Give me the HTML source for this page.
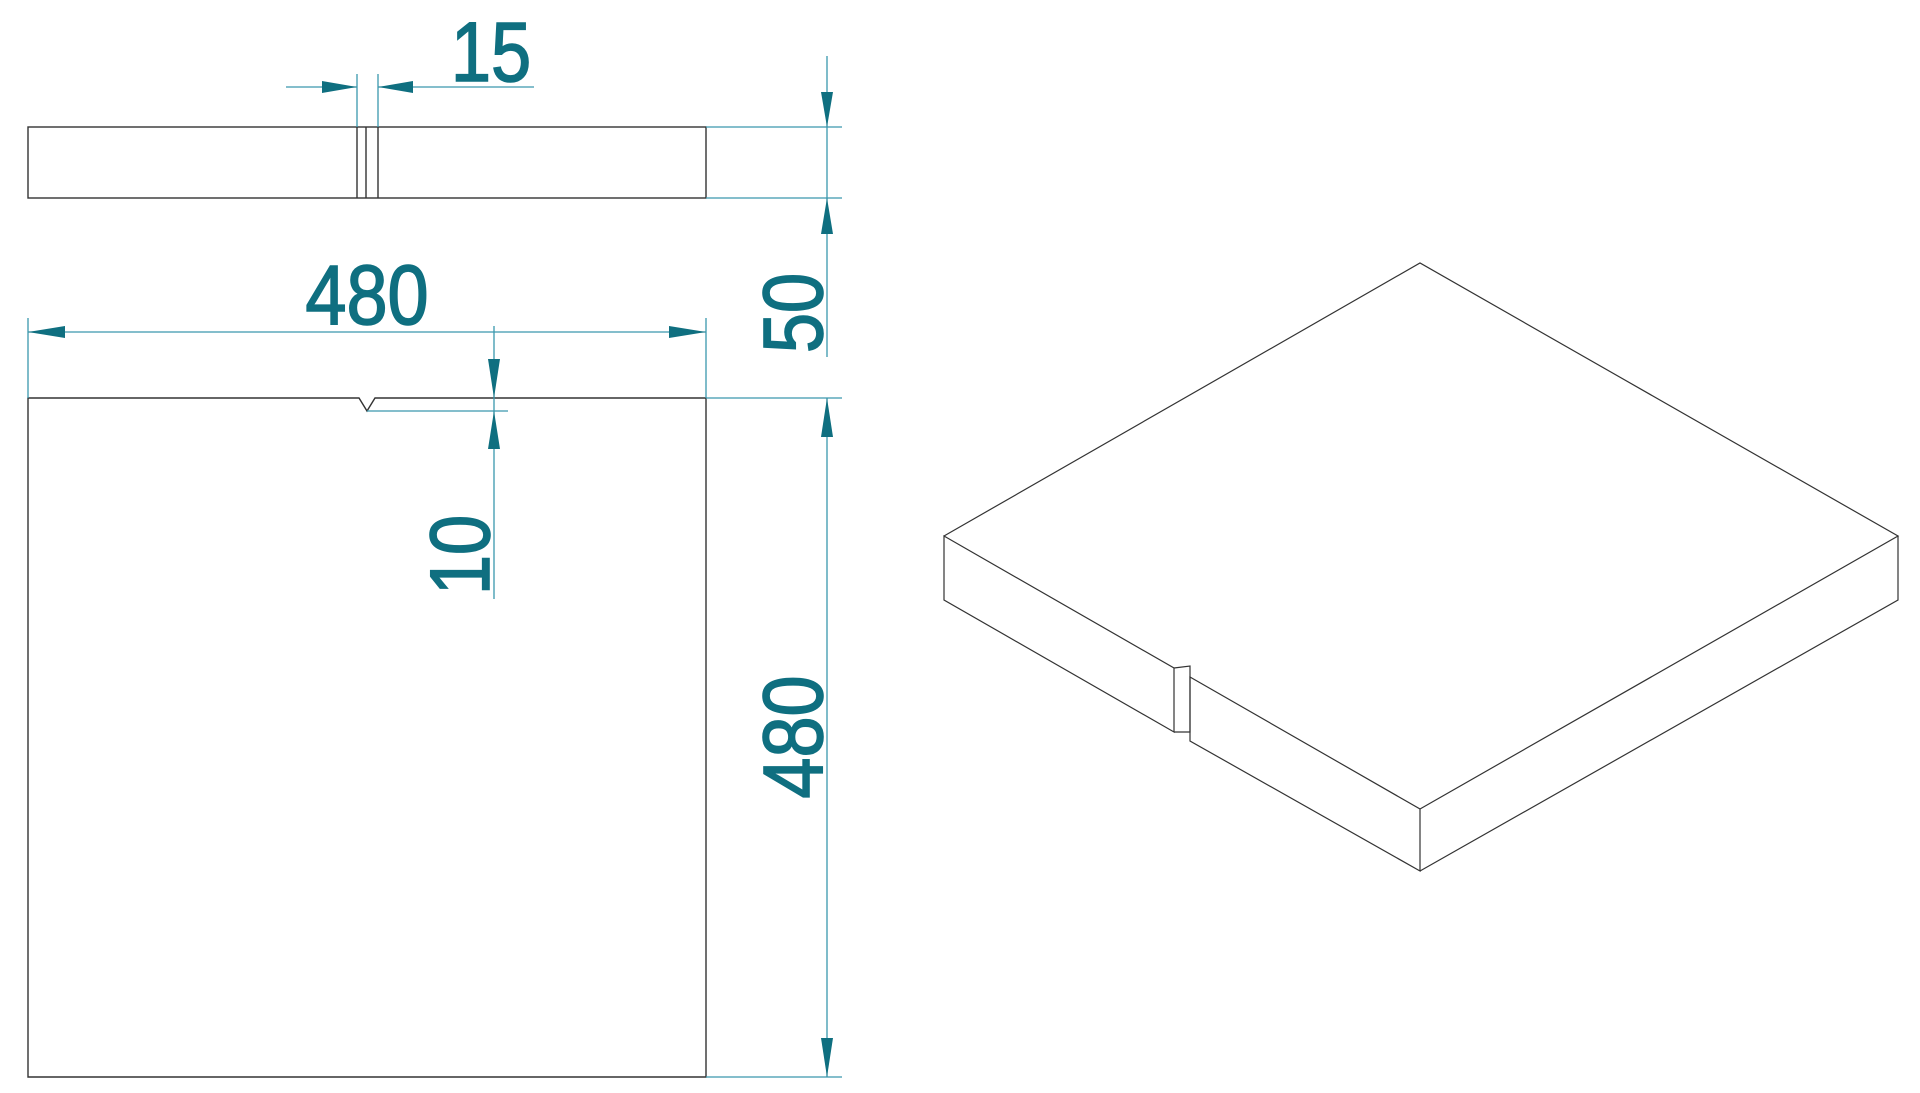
<!DOCTYPE html>
<html><head><meta charset="utf-8"><style>
html,body{margin:0;padding:0;background:#fff;}
svg{display:block;}
.t{font-family:"Liberation Sans",sans-serif;font-size:84px;fill:#0f6f80;stroke:#0f6f80;stroke-width:1.6px;}
</style></head><body>
<svg width="1920" height="1093" viewBox="0 0 1920 1093" xmlns="http://www.w3.org/2000/svg">
<g fill="none" stroke="#333" stroke-width="1.4">
<rect x="28" y="127" width="678" height="71"/>
<line x1="357" y1="127" x2="357" y2="198"/>
<line x1="366" y1="127" x2="366" y2="198"/>
<line x1="378" y1="127" x2="378" y2="198"/>
<path d="M28 398 L359 398 L367 411 L375 398 L706 398 L706 1077 L28 1077 Z"/>
</g>
<g fill="none" stroke="#3a97ad" stroke-width="1.3">
<line x1="357" y1="74" x2="357" y2="127"/>
<line x1="378" y1="74" x2="378" y2="127"/>
<line x1="286" y1="87" x2="357" y2="87"/>
<line x1="378" y1="87" x2="534" y2="87"/>
<line x1="706" y1="127" x2="842" y2="127"/>
<line x1="706" y1="198" x2="842" y2="198"/>
<line x1="827" y1="56" x2="827" y2="357"/>
<line x1="28" y1="318" x2="28" y2="398"/>
<line x1="706" y1="318" x2="706" y2="398"/>
<line x1="28" y1="332" x2="706" y2="332"/>
<line x1="494" y1="326" x2="494" y2="599"/>
<line x1="367" y1="411" x2="508" y2="411"/>
<line x1="706" y1="398" x2="842" y2="398"/>
<line x1="706" y1="1077" x2="842" y2="1077"/>
<line x1="827" y1="398" x2="827" y2="1077"/>
</g>
<g fill="#0f6f80">
<polygon points="357,87 322,81 322,93"/>
<polygon points="378,87 413,81 413,93"/>
<polygon points="827,127 821,92 833,92"/>
<polygon points="827,198 821,234 833,234"/>
<polygon points="28,332 65,326 65,338"/>
<polygon points="706,332 669,326 669,338"/>
<polygon points="494,398 488,359 500,359"/>
<polygon points="494,411 488,449 500,449"/>
<polygon points="827,398 821,437 833,437"/>
<polygon points="827,1077 821,1038 833,1038"/>
</g>
<text class="t" transform="translate(491,81) scale(0.86,1)" text-anchor="middle">15</text>
<text class="t" transform="translate(367,324) scale(0.88,1)" text-anchor="middle">480</text>
<text class="t" transform="translate(822,313) rotate(-90) scale(0.86,1)" text-anchor="middle">50</text>
<text class="t" transform="translate(489,555) rotate(-90) scale(0.86,1)" text-anchor="middle">10</text>
<text class="t" transform="translate(822,737) rotate(-90) scale(0.88,1)" text-anchor="middle">480</text>
<g fill="none" stroke="#333" stroke-width="1.2">
<path d="M944 536 L1420 263 L1898 536 L1420 809"/>
<path d="M944 536 L1174 668 L1174 732 L944 600 Z"/>
<path d="M1174 668 L1190 666 L1190 732 L1174 732"/>
<path d="M1190 677 L1420 809 L1420 871 L1190 741 Z"/>
<path d="M1898 536 L1898 600 L1420 871"/>
</g>
</svg>
</body></html>
